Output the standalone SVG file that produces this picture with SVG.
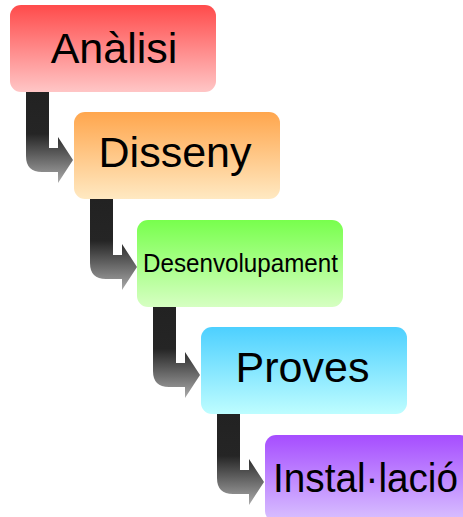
<svg xmlns="http://www.w3.org/2000/svg" width="463" height="517" viewBox="0 0 463 517">
<style>
.t{font-family:"Liberation Sans",Arial,sans-serif;fill:#000;text-anchor:middle}
.arr{fill:url(#ga)}
</style>
<defs>
<linearGradient id="ga" x1="0" y1="0" x2="0" y2="1">
<stop offset="0" stop-color="#222"/>
<stop offset="0.46" stop-color="#252525"/>
<stop offset="1" stop-color="#aaa"/>
</linearGradient>
<linearGradient id="g1" x1="0" y1="0" x2="0" y2="1"><stop offset="0" stop-color="#ff4b4b"/><stop offset="1" stop-color="#ffc6c6"/></linearGradient>
<linearGradient id="g2" x1="0" y1="0" x2="0" y2="1"><stop offset="0" stop-color="#ffa64d"/><stop offset="1" stop-color="#ffe9c2"/></linearGradient>
<linearGradient id="g3" x1="0" y1="0" x2="0" y2="1"><stop offset="0" stop-color="#78ff4d"/><stop offset="1" stop-color="#d6ffc2"/></linearGradient>
<linearGradient id="g4" x1="0" y1="0" x2="0" y2="1"><stop offset="0" stop-color="#4dd0ff"/><stop offset="1" stop-color="#befdff"/></linearGradient>
<linearGradient id="g5" x1="0" y1="0" x2="0" y2="1"><stop offset="0" stop-color="#a64dff"/><stop offset="1" stop-color="#d9c2ff"/></linearGradient>
<path id="ap" d="M0,0 L23,0 L23,56 L32,56 L32,45 L47,68 L32,91 L32,80 L16,80 Q0,80 0,64 Z"/>
</defs>
<g id="connectors">
<use href="#ap" class="arr" x="26" y="92"/>
<use href="#ap" class="arr" x="90" y="199"/>
<use href="#ap" class="arr" x="153" y="307"/>
<use href="#ap" class="arr" x="217" y="414"/>
</g>
<g id="n1">
<rect x="10" y="5" width="206" height="87" rx="11" fill="url(#g1)"/>
<text class="t" x="114" y="63" font-size="43">Anàlisi</text>
</g>
<g id="n2">
<rect x="74" y="112" width="206" height="87" rx="11" fill="url(#g2)"/>
<text class="t" x="175" y="167" font-size="43">Disseny</text>
</g>
<g id="n3">
<rect x="137" y="220" width="206" height="87" rx="11" fill="url(#g3)"/>
<text class="t" x="240.5" y="272" font-size="25" textLength="195" lengthAdjust="spacingAndGlyphs">Desenvolupament</text>
</g>
<g id="n4">
<rect x="201" y="327" width="206" height="87" rx="11" fill="url(#g4)"/>
<text class="t" x="302.5" y="382" font-size="43">Proves</text>
</g>
<g id="n5">
<rect x="265" y="435" width="206" height="87" rx="11" fill="url(#g5)"/>
<text class="t" x="365.5" y="492" font-size="41" textLength="185" lengthAdjust="spacingAndGlyphs">Instal·lació</text>
</g>
</svg>
